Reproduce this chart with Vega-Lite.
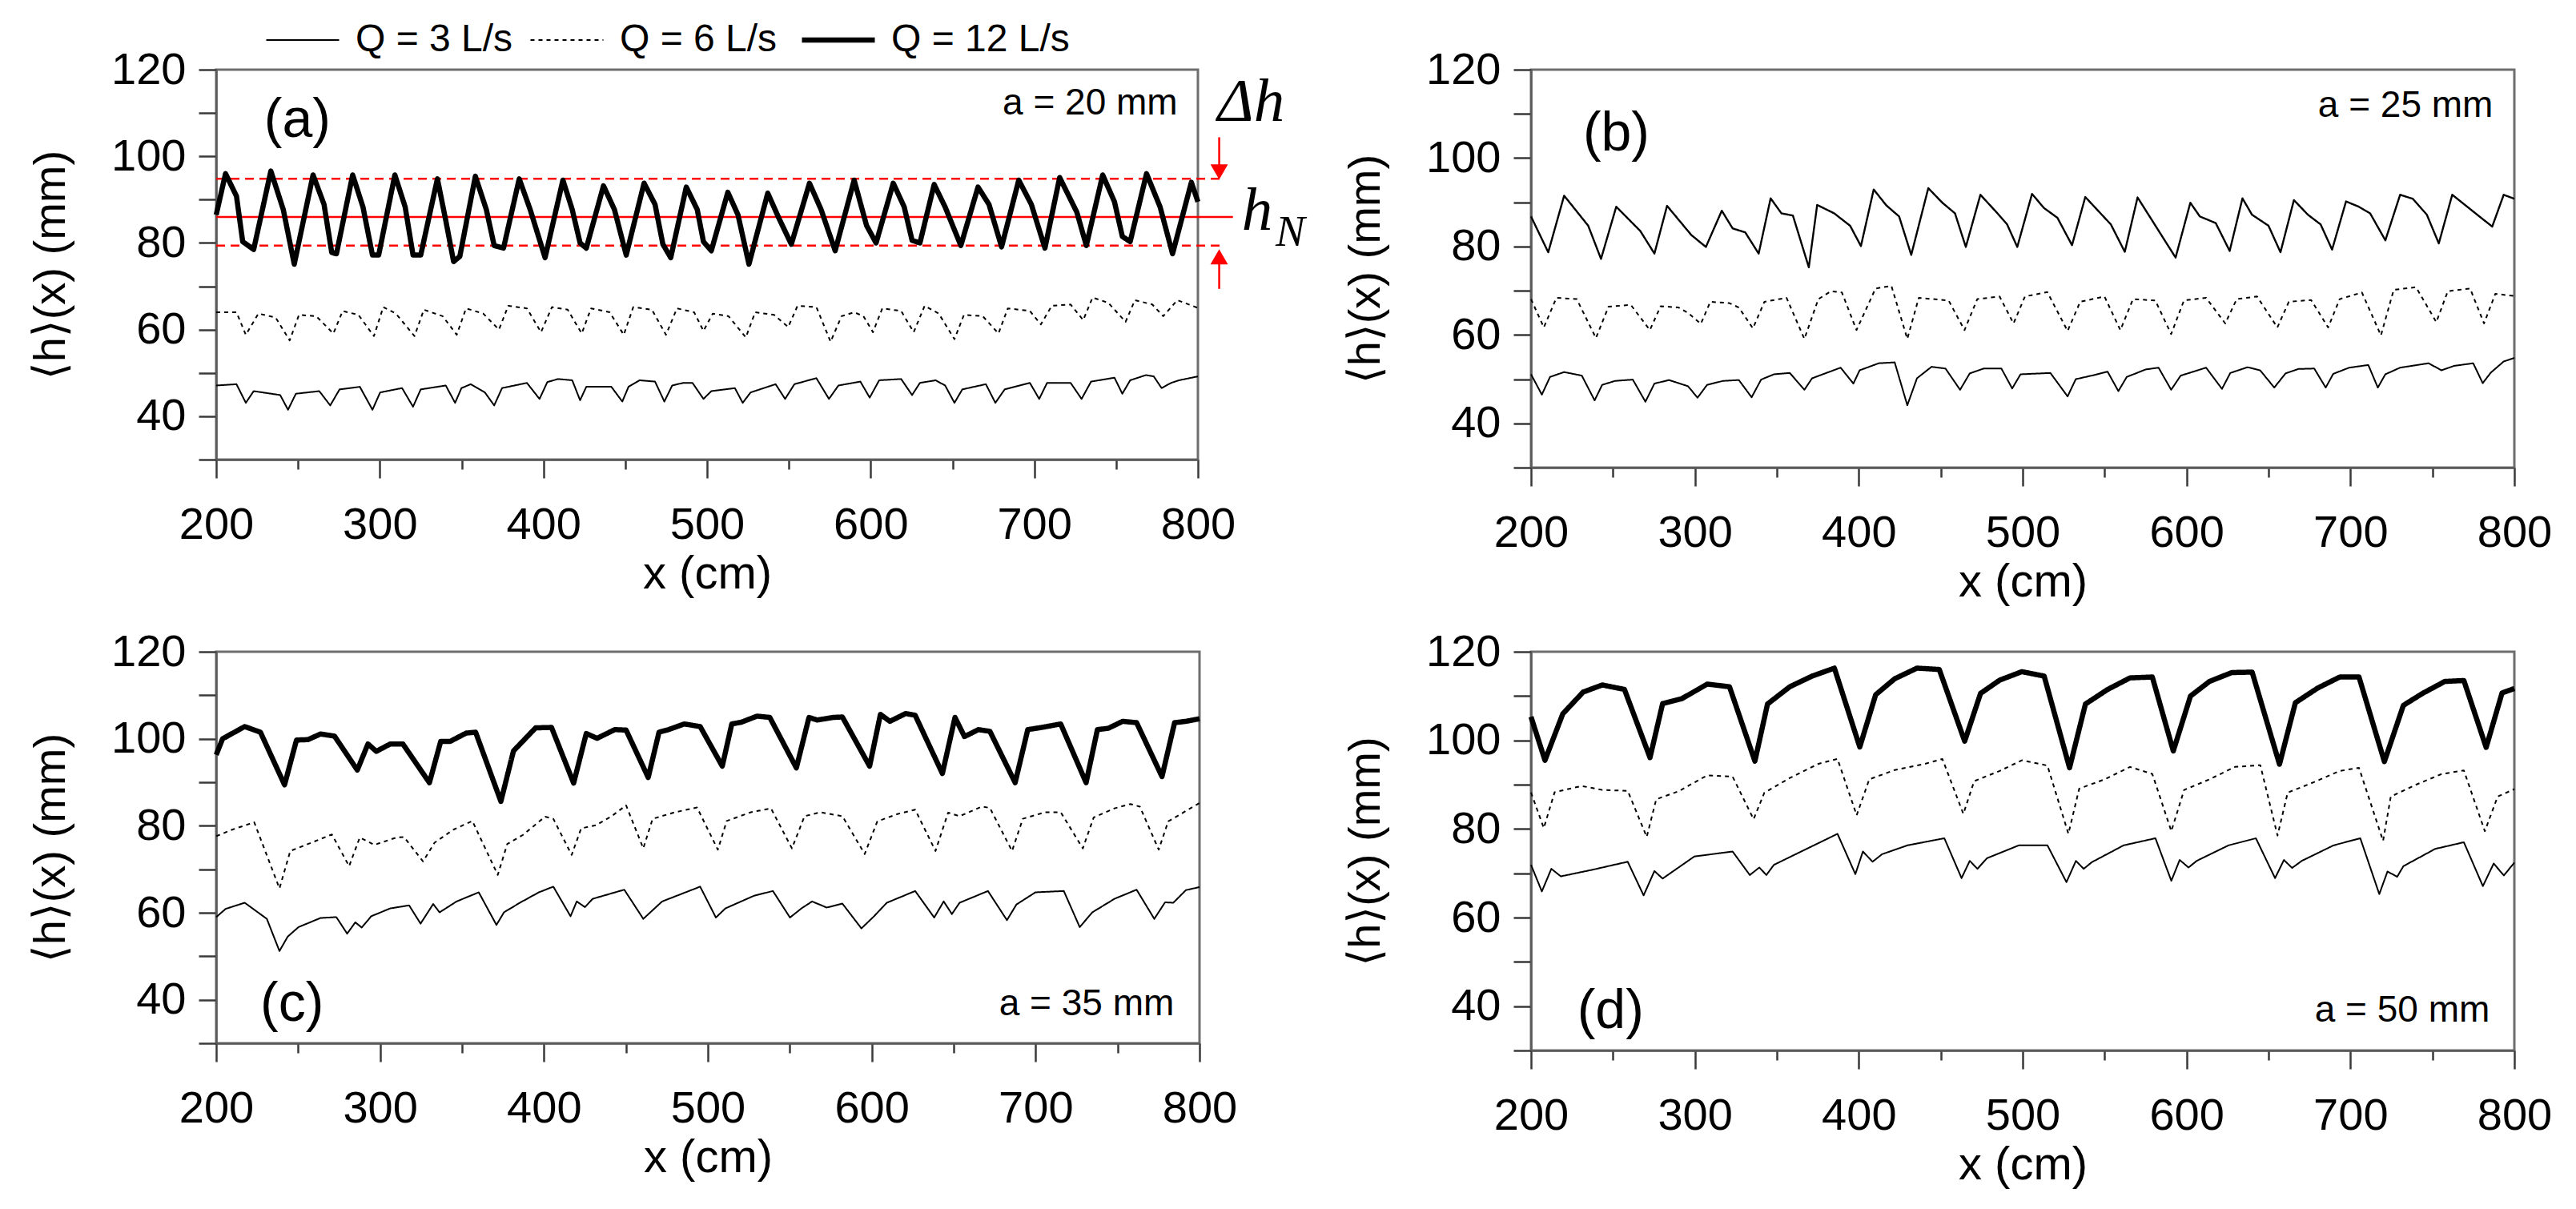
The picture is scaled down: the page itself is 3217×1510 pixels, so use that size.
{
  "$schema": "https://vega.github.io/schema/vega-lite/v6.json",
  "background": "white",
  "padding": {"left": 34, "top": 24, "right": 10, "bottom": 10},
  "columns": 2,
  "bounds": "flush",
  "spacing": {"row": 230, "column": 414},
  "resolve": {
    "scale": {"strokeDash": "independent", "strokeWidth": "independent"},
    "legend": {"strokeDash": "independent", "strokeWidth": "independent"}
  },
  "config": {
    "font": "Liberation Sans",
    "view": {"stroke": "#6e6e6e", "strokeWidth": 3},
    "axis": {
      "grid": false,
      "domainColor": "#5a5a5a",
      "domainWidth": 2.5,
      "tickColor": "#3a3a3a",
      "tickWidth": 2.5,
      "labelColor": "black",
      "titleColor": "black",
      "labelFont": "Liberation Sans",
      "titleFont": "Liberation Sans, DejaVu Sans",
      "titleFontWeight": "normal",
      "labelFontSize": 56,
      "titleFontSize": 56,
      "labelFlush": false,
      "labelOverlap": false,
      "labelBound": false
    },
    "text": {"font": "Liberation Sans", "color": "black"}
  },
  "datasets": {
    "ref": [
      {"kind": "solid", "x": 200, "x2": 821.4, "h": 86.0},
      {"kind": "dash", "x": 200, "x2": 814.9, "h": 94.8},
      {"kind": "dash", "x": 200, "x2": 814.9, "h": 79.4},
      {"kind": "shaft", "x": 813, "h": 104.4, "h2": 98.0},
      {"kind": "shaft", "x": 813, "h": 69.4, "h2": 75.5},
      {"kind": "down", "x": 813, "h": 96.4},
      {"kind": "up", "x": 813, "h": 76.8}
    ],
    "notes": [
      {"p": "a", "role": "tag", "text": "(a)", "x": 249.6, "h": 108.2},
      {"p": "b", "role": "tag", "text": "(b)", "x": 252, "h": 105.4},
      {"p": "c", "role": "tag", "text": "(c)", "x": 246.3, "h": 38.8},
      {"p": "d", "role": "tag", "text": "(d)", "x": 248.5, "h": 38.7},
      {"p": "a", "role": "aval", "text": "a = 20 mm", "x": 787.6, "h": 112.3},
      {"p": "b", "role": "aval", "text": "a = 25 mm", "x": 787, "h": 111.8},
      {"p": "c", "role": "aval", "text": "a = 35 mm", "x": 784.5, "h": 39.1},
      {"p": "d", "role": "aval", "text": "a = 50 mm", "x": 785, "h": 39.0},
      {"p": "a", "role": "dh", "text": "Δh", "x": 832.5, "h": 112.4},
      {"p": "a", "role": "hn", "text": "h", "x": 836.2, "h": 87.3},
      {"p": "a", "role": "sub", "text": "N", "x": 856.5, "h": 82.5}
    ],
    "h": [
      {"p":"a","Q":12,"x":200,"h":86.5},{"p":"a","Q":12,"x":205.7,"h":96.0},{"p":"a","Q":12,"x":212.4,"h":90.8},{"p":"a","Q":12,"x":216.2,"h":80.3},{"p":"a","Q":12,"x":222.9,"h":78.5},{"p":"a","Q":12,"x":233.4,"h":96.6},{"p":"a","Q":12,"x":241.0,"h":87.7},{"p":"a","Q":12,"x":247.7,"h":75.1},{"p":"a","Q":12,"x":259.2,"h":95.7},{"p":"a","Q":12,"x":265.9,"h":88.9},{"p":"a","Q":12,"x":270.6,"h":77.8},{"p":"a","Q":12,"x":273.5,"h":77.5},{"p":"a","Q":12,"x":283.4,"h":95.7},{"p":"a","Q":12,"x":289.7,"h":88.3},{"p":"a","Q":12,"x":295.5,"h":77.2},{"p":"a","Q":12,"x":299.3,"h":77.2},{"p":"a","Q":12,"x":309.2,"h":95.7},{"p":"a","Q":12,"x":315.5,"h":88.3},{"p":"a","Q":12,"x":320.3,"h":77.2},{"p":"a","Q":12,"x":325.0,"h":77.2},{"p":"a","Q":12,"x":335.2,"h":94.8},{"p":"a","Q":12,"x":340.3,"h":85.2},{"p":"a","Q":12,"x":345.1,"h":75.7},{"p":"a","Q":12,"x":348.9,"h":76.9},{"p":"a","Q":12,"x":358.4,"h":95.4},{"p":"a","Q":12,"x":365.1,"h":87.7},{"p":"a","Q":12,"x":369.9,"h":79.4},{"p":"a","Q":12,"x":375.6,"h":78.8},{"p":"a","Q":12,"x":385.2,"h":94.8},{"p":"a","Q":12,"x":391.9,"h":87.7},{"p":"a","Q":12,"x":401.0,"h":76.6},{"p":"a","Q":12,"x":411.9,"h":94.5},{"p":"a","Q":12,"x":417.6,"h":87.7},{"p":"a","Q":12,"x":422.4,"h":80.0},{"p":"a","Q":12,"x":426.2,"h":78.8},{"p":"a","Q":12,"x":436.7,"h":93.2},{"p":"a","Q":12,"x":443.4,"h":87.7},{"p":"a","Q":12,"x":450.6,"h":77.2},{"p":"a","Q":12,"x":461.5,"h":93.8},{"p":"a","Q":12,"x":468.2,"h":88.9},{"p":"a","Q":12,"x":473.0,"h":79.7},{"p":"a","Q":12,"x":477.8,"h":76.6},{"p":"a","Q":12,"x":487.3,"h":92.9},{"p":"a","Q":12,"x":494.0,"h":87.7},{"p":"a","Q":12,"x":497.8,"h":80.3},{"p":"a","Q":12,"x":502.6,"h":78.2},{"p":"a","Q":12,"x":512.7,"h":91.7},{"p":"a","Q":12,"x":518.9,"h":86.5},{"p":"a","Q":12,"x":525.6,"h":75.1},{"p":"a","Q":12,"x":537.1,"h":91.5},{"p":"a","Q":12,"x":543.8,"h":85.8},{"p":"a","Q":12,"x":551.5,"h":79.7},{"p":"a","Q":12,"x":562.6,"h":93.8},{"p":"a","Q":12,"x":569.7,"h":87.7},{"p":"a","Q":12,"x":578.3,"h":78.2},{"p":"a","Q":12,"x":589.9,"h":94.5},{"p":"a","Q":12,"x":597.5,"h":84.0},{"p":"a","Q":12,"x":603.3,"h":80.0},{"p":"a","Q":12,"x":613.8,"h":93.8},{"p":"a","Q":12,"x":620.5,"h":88.3},{"p":"a","Q":12,"x":625.3,"h":80.6},{"p":"a","Q":12,"x":630.1,"h":80.0},{"p":"a","Q":12,"x":638.8,"h":93.5},{"p":"a","Q":12,"x":645.5,"h":88.3},{"p":"a","Q":12,"x":655.1,"h":79.4},{"p":"a","Q":12,"x":665.6,"h":92.9},{"p":"a","Q":12,"x":672.3,"h":88.9},{"p":"a","Q":12,"x":680.0,"h":79.1},{"p":"a","Q":12,"x":690.5,"h":94.5},{"p":"a","Q":12,"x":698.2,"h":88.9},{"p":"a","Q":12,"x":706.5,"h":78.8},{"p":"a","Q":12,"x":715.5,"h":95.1},{"p":"a","Q":12,"x":726.0,"h":87.1},{"p":"a","Q":12,"x":731.8,"h":79.4},{"p":"a","Q":12,"x":741.8,"h":95.7},{"p":"a","Q":12,"x":749.0,"h":89.5},{"p":"a","Q":12,"x":753.8,"h":81.5},{"p":"a","Q":12,"x":758.6,"h":80.3},{"p":"a","Q":12,"x":768.6,"h":96.0},{"p":"a","Q":12,"x":776.9,"h":88.3},{"p":"a","Q":12,"x":784.5,"h":77.5},{"p":"a","Q":12,"x":796,"h":94.0},{"p":"a","Q":12,"x":800,"h":89.5},
      {"p":"a","Q":6,"x":200,"h":64.0},{"p":"a","Q":6,"x":212.4,"h":64.0},{"p":"a","Q":6,"x":218.1,"h":58.8},{"p":"a","Q":6,"x":225.8,"h":63.7},{"p":"a","Q":6,"x":236.3,"h":62.8},{"p":"a","Q":6,"x":244.9,"h":57.5},{"p":"a","Q":6,"x":250.6,"h":63.4},{"p":"a","Q":6,"x":261.1,"h":63.1},{"p":"a","Q":6,"x":271.6,"h":59.1},{"p":"a","Q":6,"x":277.3,"h":64.3},{"p":"a","Q":6,"x":286.9,"h":63.4},{"p":"a","Q":6,"x":296.4,"h":58.5},{"p":"a","Q":6,"x":302.1,"h":65.2},{"p":"a","Q":6,"x":309.8,"h":63.7},{"p":"a","Q":6,"x":321.2,"h":58.5},{"p":"a","Q":6,"x":326.9,"h":64.6},{"p":"a","Q":6,"x":338.4,"h":63.1},{"p":"a","Q":6,"x":347.0,"h":58.8},{"p":"a","Q":6,"x":352.7,"h":64.9},{"p":"a","Q":6,"x":363.2,"h":63.7},{"p":"a","Q":6,"x":372.8,"h":60.0},{"p":"a","Q":6,"x":378.5,"h":65.5},{"p":"a","Q":6,"x":389.9,"h":64.9},{"p":"a","Q":6,"x":398.5,"h":59.4},{"p":"a","Q":6,"x":405.2,"h":65.2},{"p":"a","Q":6,"x":414.8,"h":64.6},{"p":"a","Q":6,"x":423.4,"h":59.1},{"p":"a","Q":6,"x":429.1,"h":64.9},{"p":"a","Q":6,"x":440.5,"h":64.0},{"p":"a","Q":6,"x":449.1,"h":58.8},{"p":"a","Q":6,"x":454.9,"h":65.2},{"p":"a","Q":6,"x":466.3,"h":64.6},{"p":"a","Q":6,"x":474.9,"h":58.8},{"p":"a","Q":6,"x":481.6,"h":64.9},{"p":"a","Q":6,"x":492.1,"h":64.0},{"p":"a","Q":6,"x":497.8,"h":59.7},{"p":"a","Q":6,"x":503.5,"h":63.7},{"p":"a","Q":6,"x":513.1,"h":63.1},{"p":"a","Q":6,"x":523.7,"h":58.2},{"p":"a","Q":6,"x":529.4,"h":64.0},{"p":"a","Q":6,"x":541.0,"h":63.4},{"p":"a","Q":6,"x":549.6,"h":60.6},{"p":"a","Q":6,"x":555.3,"h":65.5},{"p":"a","Q":6,"x":566.8,"h":65.2},{"p":"a","Q":6,"x":575.5,"h":57.2},{"p":"a","Q":6,"x":582.2,"h":63.1},{"p":"a","Q":6,"x":589.9,"h":64.0},{"p":"a","Q":6,"x":595.6,"h":63.1},{"p":"a","Q":6,"x":601.4,"h":59.4},{"p":"a","Q":6,"x":607.1,"h":64.9},{"p":"a","Q":6,"x":618.6,"h":64.3},{"p":"a","Q":6,"x":626.3,"h":59.4},{"p":"a","Q":6,"x":633.0,"h":65.5},{"p":"a","Q":6,"x":641.6,"h":63.7},{"p":"a","Q":6,"x":651.2,"h":57.8},{"p":"a","Q":6,"x":657.0,"h":63.4},{"p":"a","Q":6,"x":668.5,"h":63.1},{"p":"a","Q":6,"x":678.1,"h":59.1},{"p":"a","Q":6,"x":683.8,"h":64.9},{"p":"a","Q":6,"x":697.3,"h":64.3},{"p":"a","Q":6,"x":704.0,"h":61.2},{"p":"a","Q":6,"x":710.7,"h":65.5},{"p":"a","Q":6,"x":722.2,"h":65.8},{"p":"a","Q":6,"x":729.9,"h":62.2},{"p":"a","Q":6,"x":735.6,"h":67.4},{"p":"a","Q":6,"x":745.2,"h":66.2},{"p":"a","Q":6,"x":755.8,"h":61.8},{"p":"a","Q":6,"x":761.5,"h":66.8},{"p":"a","Q":6,"x":772.1,"h":65.8},{"p":"a","Q":6,"x":778.8,"h":63.1},{"p":"a","Q":6,"x":787.4,"h":66.8},{"p":"a","Q":6,"x":800,"h":65.0},
      {"p":"a","Q":3,"x":200,"h":47.1},{"p":"a","Q":3,"x":212.4,"h":47.4},{"p":"a","Q":3,"x":218.1,"h":43.1},{"p":"a","Q":3,"x":222.9,"h":45.8},{"p":"a","Q":3,"x":239.1,"h":44.9},{"p":"a","Q":3,"x":243.9,"h":41.5},{"p":"a","Q":3,"x":248.7,"h":45.2},{"p":"a","Q":3,"x":263.0,"h":45.8},{"p":"a","Q":3,"x":269.7,"h":42.5},{"p":"a","Q":3,"x":275.4,"h":46.2},{"p":"a","Q":3,"x":287.8,"h":46.8},{"p":"a","Q":3,"x":295.5,"h":41.5},{"p":"a","Q":3,"x":300.2,"h":45.5},{"p":"a","Q":3,"x":313.6,"h":46.5},{"p":"a","Q":3,"x":320.3,"h":42.2},{"p":"a","Q":3,"x":325.0,"h":46.2},{"p":"a","Q":3,"x":340.3,"h":47.1},{"p":"a","Q":3,"x":346.0,"h":43.1},{"p":"a","Q":3,"x":349.9,"h":46.5},{"p":"a","Q":3,"x":355.6,"h":47.4},{"p":"a","Q":3,"x":364.2,"h":45.5},{"p":"a","Q":3,"x":369.9,"h":42.5},{"p":"a","Q":3,"x":374.7,"h":46.5},{"p":"a","Q":3,"x":389.9,"h":47.7},{"p":"a","Q":3,"x":397.6,"h":44.0},{"p":"a","Q":3,"x":402.4,"h":47.9},{"p":"a","Q":3,"x":409.0,"h":48.6},{"p":"a","Q":3,"x":417.6,"h":48.3},{"p":"a","Q":3,"x":422.4,"h":43.7},{"p":"a","Q":3,"x":426.2,"h":46.8},{"p":"a","Q":3,"x":441.5,"h":46.8},{"p":"a","Q":3,"x":448.2,"h":43.4},{"p":"a","Q":3,"x":452.0,"h":46.8},{"p":"a","Q":3,"x":458.7,"h":48.3},{"p":"a","Q":3,"x":468.2,"h":48.0},{"p":"a","Q":3,"x":473.9,"h":43.4},{"p":"a","Q":3,"x":478.7,"h":47.1},{"p":"a","Q":3,"x":485.4,"h":47.7},{"p":"a","Q":3,"x":491.1,"h":47.7},{"p":"a","Q":3,"x":497.8,"h":44.0},{"p":"a","Q":3,"x":502.6,"h":45.8},{"p":"a","Q":3,"x":517.0,"h":46.5},{"p":"a","Q":3,"x":521.8,"h":43.1},{"p":"a","Q":3,"x":526.6,"h":45.5},{"p":"a","Q":3,"x":541.9,"h":47.4},{"p":"a","Q":3,"x":547.7,"h":44.0},{"p":"a","Q":3,"x":553.4,"h":47.4},{"p":"a","Q":3,"x":566.8,"h":48.8},{"p":"a","Q":3,"x":574.5,"h":44.0},{"p":"a","Q":3,"x":580.3,"h":47.1},{"p":"a","Q":3,"x":593.7,"h":48.0},{"p":"a","Q":3,"x":599.4,"h":44.3},{"p":"a","Q":3,"x":605.2,"h":48.3},{"p":"a","Q":3,"x":618.6,"h":48.6},{"p":"a","Q":3,"x":625.3,"h":44.9},{"p":"a","Q":3,"x":630.1,"h":47.7},{"p":"a","Q":3,"x":639.7,"h":48.3},{"p":"a","Q":3,"x":645.5,"h":47.1},{"p":"a","Q":3,"x":651.2,"h":43.1},{"p":"a","Q":3,"x":656.0,"h":46.2},{"p":"a","Q":3,"x":670.4,"h":47.4},{"p":"a","Q":3,"x":676.2,"h":43.1},{"p":"a","Q":3,"x":681.9,"h":46.2},{"p":"a","Q":3,"x":697.3,"h":47.7},{"p":"a","Q":3,"x":703.0,"h":44.0},{"p":"a","Q":3,"x":707.8,"h":47.7},{"p":"a","Q":3,"x":722.2,"h":47.7},{"p":"a","Q":3,"x":728.9,"h":44.0},{"p":"a","Q":3,"x":734.7,"h":48.0},{"p":"a","Q":3,"x":749.0,"h":48.9},{"p":"a","Q":3,"x":753.8,"h":45.2},{"p":"a","Q":3,"x":758.6,"h":48.3},{"p":"a","Q":3,"x":768.2,"h":49.5},{"p":"a","Q":3,"x":773.0,"h":49.2},{"p":"a","Q":3,"x":777.8,"h":46.5},{"p":"a","Q":3,"x":783.6,"h":47.7},{"p":"a","Q":3,"x":788.4,"h":48.3},{"p":"a","Q":3,"x":800,"h":49.2},
      {"p":"b","Q":12,"x":200,"h":86.8},{"p":"b","Q":12,"x":210.5,"h":78.7},{"p":"b","Q":12,"x":220.2,"h":91.5},{"p":"b","Q":12,"x":234.9,"h":84.7},{"p":"b","Q":12,"x":242.7,"h":77.2},{"p":"b","Q":12,"x":252.0,"h":89.0},{"p":"b","Q":12,"x":266.7,"h":83.5},{"p":"b","Q":12,"x":275.3,"h":78.4},{"p":"b","Q":12,"x":283.0,"h":89.2},{"p":"b","Q":12,"x":297.8,"h":82.6},{"p":"b","Q":12,"x":306.7,"h":79.9},{"p":"b","Q":12,"x":316.4,"h":88.1},{"p":"b","Q":12,"x":323.0,"h":84.1},{"p":"b","Q":12,"x":330.7,"h":83.2},{"p":"b","Q":12,"x":338.9,"h":78.4},{"p":"b","Q":12,"x":346.2,"h":90.9},{"p":"b","Q":12,"x":352.8,"h":87.5},{"p":"b","Q":12,"x":359.8,"h":87.0},{"p":"b","Q":12,"x":369.5,"h":75.3},{"p":"b","Q":12,"x":374.6,"h":89.4},{"p":"b","Q":12,"x":385.0,"h":87.5},{"p":"b","Q":12,"x":394.7,"h":84.7},{"p":"b","Q":12,"x":401.3,"h":80.1},{"p":"b","Q":12,"x":409.1,"h":92.9},{"p":"b","Q":12,"x":416.8,"h":89.3},{"p":"b","Q":12,"x":424.6,"h":86.8},{"p":"b","Q":12,"x":432.0,"h":78.1},{"p":"b","Q":12,"x":442.4,"h":93.2},{"p":"b","Q":12,"x":451.0,"h":89.9},{"p":"b","Q":12,"x":458.7,"h":87.5},{"p":"b","Q":12,"x":465.3,"h":79.9},{"p":"b","Q":12,"x":474.2,"h":91.7},{"p":"b","Q":12,"x":483.9,"h":87.8},{"p":"b","Q":12,"x":490.5,"h":85.0},{"p":"b","Q":12,"x":496.7,"h":79.9},{"p":"b","Q":12,"x":505.7,"h":91.9},{"p":"b","Q":12,"x":513.0,"h":88.7},{"p":"b","Q":12,"x":521.2,"h":86.5},{"p":"b","Q":12,"x":530.1,"h":80.3},{"p":"b","Q":12,"x":538.2,"h":91.2},{"p":"b","Q":12,"x":553.8,"h":85.0},{"p":"b","Q":12,"x":562.3,"h":78.8},{"p":"b","Q":12,"x":570.1,"h":91.1},{"p":"b","Q":12,"x":593.3,"h":77.5},{"p":"b","Q":12,"x":602.3,"h":89.9},{"p":"b","Q":12,"x":608.1,"h":86.8},{"p":"b","Q":12,"x":617.8,"h":85.3},{"p":"b","Q":12,"x":626.3,"h":79.0},{"p":"b","Q":12,"x":634.1,"h":90.9},{"p":"b","Q":12,"x":639.9,"h":87.2},{"p":"b","Q":12,"x":650.0,"h":84.7},{"p":"b","Q":12,"x":657.3,"h":78.7},{"p":"b","Q":12,"x":665.5,"h":90.5},{"p":"b","Q":12,"x":674.0,"h":87.2},{"p":"b","Q":12,"x":681.8,"h":85.0},{"p":"b","Q":12,"x":688.8,"h":79.3},{"p":"b","Q":12,"x":697.3,"h":90.2},{"p":"b","Q":12,"x":705.1,"h":89.0},{"p":"b","Q":12,"x":712.0,"h":87.5},{"p":"b","Q":12,"x":721.3,"h":81.4},{"p":"b","Q":12,"x":730.3,"h":91.7},{"p":"b","Q":12,"x":738.0,"h":90.8},{"p":"b","Q":12,"x":746.6,"h":87.2},{"p":"b","Q":12,"x":753.9,"h":80.7},{"p":"b","Q":12,"x":762.1,"h":91.7},{"p":"b","Q":12,"x":786.5,"h":84.5},{"p":"b","Q":12,"x":793.5,"h":91.7},{"p":"b","Q":12,"x":800,"h":90.8},
      {"p":"b","Q":6,"x":200,"h":68.1},{"p":"b","Q":6,"x":207.8,"h":61.7},{"p":"b","Q":6,"x":215.5,"h":68.4},{"p":"b","Q":6,"x":227.9,"h":68.1},{"p":"b","Q":6,"x":239.6,"h":59.3},{"p":"b","Q":6,"x":247.3,"h":66.4},{"p":"b","Q":6,"x":260.9,"h":66.8},{"p":"b","Q":6,"x":272.5,"h":61.1},{"p":"b","Q":6,"x":279.1,"h":66.5},{"p":"b","Q":6,"x":290.0,"h":66.2},{"p":"b","Q":6,"x":295.8,"h":65.0},{"p":"b","Q":6,"x":303.6,"h":62.5},{"p":"b","Q":6,"x":309.4,"h":67.5},{"p":"b","Q":6,"x":321.0,"h":67.2},{"p":"b","Q":6,"x":326.8,"h":66.2},{"p":"b","Q":6,"x":335.4,"h":61.5},{"p":"b","Q":6,"x":342.4,"h":67.5},{"p":"b","Q":6,"x":355.9,"h":68.4},{"p":"b","Q":6,"x":366.8,"h":59.1},{"p":"b","Q":6,"x":375.3,"h":68.1},{"p":"b","Q":6,"x":383.1,"h":69.9},{"p":"b","Q":6,"x":389.7,"h":69.6},{"p":"b","Q":6,"x":398.6,"h":61.1},{"p":"b","Q":6,"x":410.2,"h":70.5},{"p":"b","Q":6,"x":419.9,"h":71.1},{"p":"b","Q":6,"x":429.6,"h":59.1},{"p":"b","Q":6,"x":436.6,"h":68.4},{"p":"b","Q":6,"x":454.8,"h":67.8},{"p":"b","Q":6,"x":464.5,"h":61.1},{"p":"b","Q":6,"x":472.3,"h":68.1},{"p":"b","Q":6,"x":485.9,"h":68.7},{"p":"b","Q":6,"x":494.4,"h":62.6},{"p":"b","Q":6,"x":501.4,"h":68.7},{"p":"b","Q":6,"x":515.0,"h":69.7},{"p":"b","Q":6,"x":527.4,"h":60.9},{"p":"b","Q":6,"x":535.1,"h":67.5},{"p":"b","Q":6,"x":549.9,"h":68.7},{"p":"b","Q":6,"x":559.6,"h":61.1},{"p":"b","Q":6,"x":567.3,"h":68.1},{"p":"b","Q":6,"x":580.9,"h":67.8},{"p":"b","Q":6,"x":590.6,"h":60.2},{"p":"b","Q":6,"x":598.4,"h":67.8},{"p":"b","Q":6,"x":611.9,"h":68.4},{"p":"b","Q":6,"x":623.6,"h":62.6},{"p":"b","Q":6,"x":630.6,"h":68.1},{"p":"b","Q":6,"x":643.0,"h":68.7},{"p":"b","Q":6,"x":655.4,"h":61.7},{"p":"b","Q":6,"x":662.4,"h":67.5},{"p":"b","Q":6,"x":676.0,"h":67.9},{"p":"b","Q":6,"x":686.4,"h":61.7},{"p":"b","Q":6,"x":693.4,"h":68.1},{"p":"b","Q":6,"x":707.0,"h":69.6},{"p":"b","Q":6,"x":718.6,"h":59.9},{"p":"b","Q":6,"x":726.4,"h":70.2},{"p":"b","Q":6,"x":740.0,"h":70.8},{"p":"b","Q":6,"x":752.4,"h":62.9},{"p":"b","Q":6,"x":759.4,"h":69.9},{"p":"b","Q":6,"x":773.0,"h":70.5},{"p":"b","Q":6,"x":781.5,"h":62.6},{"p":"b","Q":6,"x":788.4,"h":69.3},{"p":"b","Q":6,"x":800,"h":68.8},
      {"p":"b","Q":3,"x":200,"h":51.1},{"p":"b","Q":3,"x":206.6,"h":46.5},{"p":"b","Q":3,"x":211.6,"h":50.5},{"p":"b","Q":3,"x":220.2,"h":51.6},{"p":"b","Q":3,"x":231.0,"h":50.8},{"p":"b","Q":3,"x":238.8,"h":45.2},{"p":"b","Q":3,"x":243.4,"h":48.7},{"p":"b","Q":3,"x":251.2,"h":49.6},{"p":"b","Q":3,"x":262.1,"h":49.9},{"p":"b","Q":3,"x":269.8,"h":44.9},{"p":"b","Q":3,"x":275.3,"h":49.0},{"p":"b","Q":3,"x":284.2,"h":49.8},{"p":"b","Q":3,"x":295.8,"h":48.4},{"p":"b","Q":3,"x":301.6,"h":45.8},{"p":"b","Q":3,"x":307.4,"h":48.7},{"p":"b","Q":3,"x":317.1,"h":49.6},{"p":"b","Q":3,"x":326.8,"h":49.8},{"p":"b","Q":3,"x":334.6,"h":45.9},{"p":"b","Q":3,"x":340.4,"h":49.9},{"p":"b","Q":3,"x":348.2,"h":51.1},{"p":"b","Q":3,"x":357.9,"h":51.4},{"p":"b","Q":3,"x":366.8,"h":47.6},{"p":"b","Q":3,"x":371.5,"h":50.2},{"p":"b","Q":3,"x":388.9,"h":52.6},{"p":"b","Q":3,"x":396.7,"h":49.0},{"p":"b","Q":3,"x":400.5,"h":52.0},{"p":"b","Q":3,"x":412.2,"h":53.6},{"p":"b","Q":3,"x":421.9,"h":53.8},{"p":"b","Q":3,"x":429.6,"h":44.1},{"p":"b","Q":3,"x":435.5,"h":50.2},{"p":"b","Q":3,"x":444.4,"h":52.8},{"p":"b","Q":3,"x":452.9,"h":52.4},{"p":"b","Q":3,"x":461.8,"h":47.6},{"p":"b","Q":3,"x":467.7,"h":51.3},{"p":"b","Q":3,"x":476.2,"h":52.4},{"p":"b","Q":3,"x":487.0,"h":52.4},{"p":"b","Q":3,"x":493.6,"h":47.9},{"p":"b","Q":3,"x":498.7,"h":51.1},{"p":"b","Q":3,"x":516.9,"h":51.4},{"p":"b","Q":3,"x":527.4,"h":46.1},{"p":"b","Q":3,"x":532.4,"h":50.0},{"p":"b","Q":3,"x":542.1,"h":50.8},{"p":"b","Q":3,"x":551.8,"h":51.7},{"p":"b","Q":3,"x":558.4,"h":47.3},{"p":"b","Q":3,"x":563.5,"h":50.5},{"p":"b","Q":3,"x":575.1,"h":52.2},{"p":"b","Q":3,"x":582.9,"h":52.6},{"p":"b","Q":3,"x":590.6,"h":47.6},{"p":"b","Q":3,"x":596.4,"h":50.8},{"p":"b","Q":3,"x":611.9,"h":52.6},{"p":"b","Q":3,"x":621.6,"h":47.8},{"p":"b","Q":3,"x":626.7,"h":51.4},{"p":"b","Q":3,"x":637.2,"h":52.7},{"p":"b","Q":3,"x":644.9,"h":52.0},{"p":"b","Q":3,"x":653.5,"h":48.1},{"p":"b","Q":3,"x":660.4,"h":51.3},{"p":"b","Q":3,"x":668.2,"h":52.3},{"p":"b","Q":3,"x":677.9,"h":52.4},{"p":"b","Q":3,"x":684.9,"h":48.1},{"p":"b","Q":3,"x":689.5,"h":51.2},{"p":"b","Q":3,"x":699.2,"h":52.6},{"p":"b","Q":3,"x":710.9,"h":53.2},{"p":"b","Q":3,"x":716.7,"h":48.1},{"p":"b","Q":3,"x":721.3,"h":51.1},{"p":"b","Q":3,"x":730.3,"h":52.6},{"p":"b","Q":3,"x":747.7,"h":53.6},{"p":"b","Q":3,"x":755.5,"h":52.0},{"p":"b","Q":3,"x":763.2,"h":53.0},{"p":"b","Q":3,"x":774.9,"h":53.6},{"p":"b","Q":3,"x":780.7,"h":49.1},{"p":"b","Q":3,"x":785.7,"h":51.5},{"p":"b","Q":3,"x":793.5,"h":54.0},{"p":"b","Q":3,"x":800,"h":54.8},
      {"p":"c","Q":12,"x":200,"h":96.3},{"p":"c","Q":12,"x":203.9,"h":100.0},{"p":"c","Q":12,"x":217.4,"h":102.8},{"p":"c","Q":12,"x":227.0,"h":101.5},{"p":"c","Q":12,"x":241.7,"h":89.4},{"p":"c","Q":12,"x":249.0,"h":99.7},{"p":"c","Q":12,"x":256.0,"h":99.8},{"p":"c","Q":12,"x":263.7,"h":101.1},{"p":"c","Q":12,"x":272.2,"h":100.6},{"p":"c","Q":12,"x":286.1,"h":92.8},{"p":"c","Q":12,"x":292.6,"h":98.8},{"p":"c","Q":12,"x":297.7,"h":97.1},{"p":"c","Q":12,"x":306.2,"h":98.8},{"p":"c","Q":12,"x":313.9,"h":98.8},{"p":"c","Q":12,"x":330.1,"h":89.9},{"p":"c","Q":12,"x":337.0,"h":99.4},{"p":"c","Q":12,"x":342.8,"h":99.4},{"p":"c","Q":12,"x":352.5,"h":101.3},{"p":"c","Q":12,"x":358.3,"h":101.5},{"p":"c","Q":12,"x":373.7,"h":85.6},{"p":"c","Q":12,"x":381.4,"h":97.2},{"p":"c","Q":12,"x":394.9,"h":102.5},{"p":"c","Q":12,"x":404.6,"h":102.6},{"p":"c","Q":12,"x":418.1,"h":89.8},{"p":"c","Q":12,"x":425.8,"h":101.2},{"p":"c","Q":12,"x":432.4,"h":100.1},{"p":"c","Q":12,"x":443.2,"h":102.1},{"p":"c","Q":12,"x":450.1,"h":102.0},{"p":"c","Q":12,"x":463.6,"h":91.1},{"p":"c","Q":12,"x":470.2,"h":101.5},{"p":"c","Q":12,"x":476.0,"h":102.1},{"p":"c","Q":12,"x":485.6,"h":103.4},{"p":"c","Q":12,"x":495.3,"h":102.8},{"p":"c","Q":12,"x":508.8,"h":93.7},{"p":"c","Q":12,"x":514.6,"h":103.4},{"p":"c","Q":12,"x":520.4,"h":103.8},{"p":"c","Q":12,"x":530.0,"h":105.2},{"p":"c","Q":12,"x":537.8,"h":104.9},{"p":"c","Q":12,"x":554.0,"h":93.3},{"p":"c","Q":12,"x":561.7,"h":104.9},{"p":"c","Q":12,"x":566.7,"h":104.3},{"p":"c","Q":12,"x":576.4,"h":104.9},{"p":"c","Q":12,"x":582.1,"h":105.0},{"p":"c","Q":12,"x":598.7,"h":93.7},{"p":"c","Q":12,"x":605.3,"h":105.6},{"p":"c","Q":12,"x":611.1,"h":104.0},{"p":"c","Q":12,"x":620.7,"h":105.8},{"p":"c","Q":12,"x":626.5,"h":105.4},{"p":"c","Q":12,"x":643.1,"h":92.0},{"p":"c","Q":12,"x":650.8,"h":104.9},{"p":"c","Q":12,"x":656.6,"h":100.5},{"p":"c","Q":12,"x":665.1,"h":102.1},{"p":"c","Q":12,"x":672.1,"h":101.7},{"p":"c","Q":12,"x":687.5,"h":89.9},{"p":"c","Q":12,"x":695.2,"h":102.1},{"p":"c","Q":12,"x":703.7,"h":102.6},{"p":"c","Q":12,"x":715.3,"h":103.4},{"p":"c","Q":12,"x":730.8,"h":89.9},{"p":"c","Q":12,"x":737.7,"h":102.1},{"p":"c","Q":12,"x":744.3,"h":102.4},{"p":"c","Q":12,"x":753.1,"h":104.0},{"p":"c","Q":12,"x":761.6,"h":103.7},{"p":"c","Q":12,"x":777.1,"h":91.3},{"p":"c","Q":12,"x":784.8,"h":103.7},{"p":"c","Q":12,"x":791.7,"h":104.0},{"p":"c","Q":12,"x":800,"h":104.6},
      {"p":"c","Q":6,"x":200,"h":77.6},{"p":"c","Q":6,"x":209.7,"h":79.1},{"p":"c","Q":6,"x":223.2,"h":80.8},{"p":"c","Q":6,"x":238.6,"h":65.6},{"p":"c","Q":6,"x":245.2,"h":74.2},{"p":"c","Q":6,"x":254.0,"h":75.5},{"p":"c","Q":6,"x":270.6,"h":78.0},{"p":"c","Q":6,"x":281.1,"h":70.7},{"p":"c","Q":6,"x":287.6,"h":77.3},{"p":"c","Q":6,"x":296.5,"h":75.6},{"p":"c","Q":6,"x":310.0,"h":77.3},{"p":"c","Q":6,"x":314.6,"h":77.4},{"p":"c","Q":6,"x":326.2,"h":71.8},{"p":"c","Q":6,"x":333.2,"h":76.1},{"p":"c","Q":6,"x":344.7,"h":79.1},{"p":"c","Q":6,"x":356.3,"h":81.1},{"p":"c","Q":6,"x":371.8,"h":68.7},{"p":"c","Q":6,"x":377.6,"h":75.8},{"p":"c","Q":6,"x":387.2,"h":77.9},{"p":"c","Q":6,"x":400.7,"h":82.1},{"p":"c","Q":6,"x":405.7,"h":81.6},{"p":"c","Q":6,"x":416.9,"h":73.3},{"p":"c","Q":6,"x":422.7,"h":79.4},{"p":"c","Q":6,"x":431.6,"h":80.1},{"p":"c","Q":6,"x":441.3,"h":82.2},{"p":"c","Q":6,"x":450.1,"h":84.7},{"p":"c","Q":6,"x":460.6,"h":74.8},{"p":"c","Q":6,"x":466.3,"h":81.6},{"p":"c","Q":6,"x":479.9,"h":83.1},{"p":"c","Q":6,"x":493.4,"h":84.2},{"p":"c","Q":6,"x":506.1,"h":74.5},{"p":"c","Q":6,"x":511.5,"h":81.1},{"p":"c","Q":6,"x":526.2,"h":83.1},{"p":"c","Q":6,"x":538.5,"h":84.0},{"p":"c","Q":6,"x":551.3,"h":74.8},{"p":"c","Q":6,"x":559.0,"h":82.2},{"p":"c","Q":6,"x":568.6,"h":83.1},{"p":"c","Q":6,"x":582.1,"h":82.2},{"p":"c","Q":6,"x":595.7,"h":73.5},{"p":"c","Q":6,"x":603.4,"h":81.0},{"p":"c","Q":6,"x":615.7,"h":82.7},{"p":"c","Q":6,"x":626.5,"h":83.7},{"p":"c","Q":6,"x":638.9,"h":74.2},{"p":"c","Q":6,"x":646.6,"h":83.0},{"p":"c","Q":6,"x":653.6,"h":82.2},{"p":"c","Q":6,"x":667.1,"h":84.4},{"p":"c","Q":6,"x":672.1,"h":84.1},{"p":"c","Q":6,"x":685.6,"h":74.2},{"p":"c","Q":6,"x":692.2,"h":81.6},{"p":"c","Q":6,"x":705.7,"h":83.1},{"p":"c","Q":6,"x":715.3,"h":83.1},{"p":"c","Q":6,"x":728.8,"h":74.8},{"p":"c","Q":6,"x":735.4,"h":81.9},{"p":"c","Q":6,"x":748.1,"h":84.0},{"p":"c","Q":6,"x":757.8,"h":85.0},{"p":"c","Q":6,"x":763.6,"h":84.4},{"p":"c","Q":6,"x":775.1,"h":74.5},{"p":"c","Q":6,"x":780.9,"h":81.0},{"p":"c","Q":6,"x":791.7,"h":83.4},{"p":"c","Q":6,"x":800,"h":85.2},
      {"p":"c","Q":3,"x":200,"h":59.0},{"p":"c","Q":3,"x":205.8,"h":60.9},{"p":"c","Q":3,"x":217.4,"h":62.3},{"p":"c","Q":3,"x":230.9,"h":58.6},{"p":"c","Q":3,"x":238.6,"h":51.2},{"p":"c","Q":3,"x":243.6,"h":54.5},{"p":"c","Q":3,"x":250.2,"h":56.7},{"p":"c","Q":3,"x":263.7,"h":58.8},{"p":"c","Q":3,"x":273.3,"h":59.0},{"p":"c","Q":3,"x":279.9,"h":55.2},{"p":"c","Q":3,"x":284.9,"h":57.8},{"p":"c","Q":3,"x":288.8,"h":56.6},{"p":"c","Q":3,"x":294.6,"h":59.2},{"p":"c","Q":3,"x":306.2,"h":61.0},{"p":"c","Q":3,"x":317.7,"h":61.7},{"p":"c","Q":3,"x":324.7,"h":57.5},{"p":"c","Q":3,"x":332.4,"h":62.0},{"p":"c","Q":3,"x":336.3,"h":60.1},{"p":"c","Q":3,"x":346.7,"h":62.6},{"p":"c","Q":3,"x":360.2,"h":64.7},{"p":"c","Q":3,"x":371.0,"h":57.2},{"p":"c","Q":3,"x":375.6,"h":60.1},{"p":"c","Q":3,"x":385.3,"h":62.3},{"p":"c","Q":3,"x":396.9,"h":64.7},{"p":"c","Q":3,"x":405.7,"h":66.0},{"p":"c","Q":3,"x":416.2,"h":59.2},{"p":"c","Q":3,"x":420.0,"h":62.6},{"p":"c","Q":3,"x":425.0,"h":61.3},{"p":"c","Q":3,"x":429.7,"h":63.2},{"p":"c","Q":3,"x":449.0,"h":65.3},{"p":"c","Q":3,"x":460.6,"h":58.6},{"p":"c","Q":3,"x":472.1,"h":62.6},{"p":"c","Q":3,"x":495.3,"h":66.0},{"p":"c","Q":3,"x":504.9,"h":58.9},{"p":"c","Q":3,"x":510.7,"h":61.0},{"p":"c","Q":3,"x":528.1,"h":63.9},{"p":"c","Q":3,"x":539.7,"h":65.0},{"p":"c","Q":3,"x":550.1,"h":58.9},{"p":"c","Q":3,"x":557.1,"h":61.0},{"p":"c","Q":3,"x":563.6,"h":62.6},{"p":"c","Q":3,"x":572.5,"h":61.2},{"p":"c","Q":3,"x":582.1,"h":62.1},{"p":"c","Q":3,"x":593.7,"h":56.4},{"p":"c","Q":3,"x":601.4,"h":59.2},{"p":"c","Q":3,"x":609.2,"h":62.3},{"p":"c","Q":3,"x":626.5,"h":65.0},{"p":"c","Q":3,"x":638.1,"h":58.9},{"p":"c","Q":3,"x":643.9,"h":62.6},{"p":"c","Q":3,"x":648.9,"h":59.7},{"p":"c","Q":3,"x":653.6,"h":62.3},{"p":"c","Q":3,"x":670.9,"h":65.0},{"p":"c","Q":3,"x":682.5,"h":58.3},{"p":"c","Q":3,"x":688.3,"h":61.9},{"p":"c","Q":3,"x":699.9,"h":64.7},{"p":"c","Q":3,"x":717.2,"h":65.0},{"p":"c","Q":3,"x":726.9,"h":56.7},{"p":"c","Q":3,"x":734.6,"h":60.1},{"p":"c","Q":3,"x":748.1,"h":63.2},{"p":"c","Q":3,"x":761.6,"h":65.3},{"p":"c","Q":3,"x":772.4,"h":58.6},{"p":"c","Q":3,"x":779.0,"h":62.4},{"p":"c","Q":3,"x":784.0,"h":62.3},{"p":"c","Q":3,"x":791.7,"h":65.2},{"p":"c","Q":3,"x":800,"h":65.9},
      {"p":"d","Q":12,"x":200,"h":105.3},{"p":"d","Q":12,"x":208.5,"h":95.5},{"p":"d","Q":12,"x":219.4,"h":106.0},{"p":"d","Q":12,"x":231.8,"h":110.9},{"p":"d","Q":12,"x":243.5,"h":112.5},{"p":"d","Q":12,"x":257.0,"h":111.5},{"p":"d","Q":12,"x":272.6,"h":96.1},{"p":"d","Q":12,"x":280.3,"h":108.3},{"p":"d","Q":12,"x":292.0,"h":109.4},{"p":"d","Q":12,"x":307.5,"h":112.7},{"p":"d","Q":12,"x":321.1,"h":112.1},{"p":"d","Q":12,"x":336.6,"h":95.3},{"p":"d","Q":12,"x":344.3,"h":108.2},{"p":"d","Q":12,"x":357.9,"h":112.1},{"p":"d","Q":12,"x":371.5,"h":114.5},{"p":"d","Q":12,"x":385.1,"h":116.3},{"p":"d","Q":12,"x":400.6,"h":98.5},{"p":"d","Q":12,"x":410.3,"h":110.3},{"p":"d","Q":12,"x":421.9,"h":113.9},{"p":"d","Q":12,"x":435.5,"h":116.3},{"p":"d","Q":12,"x":449.1,"h":116.0},{"p":"d","Q":12,"x":464.6,"h":99.8},{"p":"d","Q":12,"x":474.3,"h":110.6},{"p":"d","Q":12,"x":486.0,"h":113.6},{"p":"d","Q":12,"x":499.5,"h":115.5},{"p":"d","Q":12,"x":513.1,"h":114.5},{"p":"d","Q":12,"x":528.6,"h":93.8},{"p":"d","Q":12,"x":538.3,"h":108.2},{"p":"d","Q":12,"x":551.9,"h":111.5},{"p":"d","Q":12,"x":565.5,"h":114.1},{"p":"d","Q":12,"x":579.1,"h":114.3},{"p":"d","Q":12,"x":591.9,"h":97.6},{"p":"d","Q":12,"x":602.4,"h":110.0},{"p":"d","Q":12,"x":614.0,"h":113.3},{"p":"d","Q":12,"x":627.6,"h":115.3},{"p":"d","Q":12,"x":640.0,"h":115.4},{"p":"d","Q":12,"x":656.7,"h":94.6},{"p":"d","Q":12,"x":666.4,"h":108.5},{"p":"d","Q":12,"x":680.0,"h":111.8},{"p":"d","Q":12,"x":693.5,"h":114.3},{"p":"d","Q":12,"x":705.2,"h":114.3},{"p":"d","Q":12,"x":720.7,"h":95.2},{"p":"d","Q":12,"x":732.3,"h":107.9},{"p":"d","Q":12,"x":744.0,"h":110.6},{"p":"d","Q":12,"x":757.6,"h":113.3},{"p":"d","Q":12,"x":769.2,"h":113.5},{"p":"d","Q":12,"x":782.8,"h":98.4},{"p":"d","Q":12,"x":792.5,"h":110.7},{"p":"d","Q":12,"x":800,"h":111.7},
      {"p":"d","Q":6,"x":200,"h":88.2},{"p":"d","Q":6,"x":207.8,"h":80.2},{"p":"d","Q":6,"x":214.4,"h":88.3},{"p":"d","Q":6,"x":231.0,"h":89.7},{"p":"d","Q":6,"x":243.5,"h":88.8},{"p":"d","Q":6,"x":259.0,"h":88.6},{"p":"d","Q":6,"x":270.6,"h":78.2},{"p":"d","Q":6,"x":276.4,"h":86.7},{"p":"d","Q":6,"x":290.0,"h":88.5},{"p":"d","Q":6,"x":307.5,"h":92.1},{"p":"d","Q":6,"x":323.0,"h":91.8},{"p":"d","Q":6,"x":335.8,"h":82.2},{"p":"d","Q":6,"x":342.4,"h":88.2},{"p":"d","Q":6,"x":357.9,"h":91.5},{"p":"d","Q":6,"x":375.4,"h":94.7},{"p":"d","Q":6,"x":387.0,"h":95.8},{"p":"d","Q":6,"x":398.7,"h":83.1},{"p":"d","Q":6,"x":406.4,"h":91.2},{"p":"d","Q":6,"x":421.9,"h":93.3},{"p":"d","Q":6,"x":439.4,"h":94.6},{"p":"d","Q":6,"x":451.0,"h":95.8},{"p":"d","Q":6,"x":463.8,"h":83.4},{"p":"d","Q":6,"x":470.4,"h":90.8},{"p":"d","Q":6,"x":486.0,"h":93.1},{"p":"d","Q":6,"x":499.5,"h":95.5},{"p":"d","Q":6,"x":515.1,"h":94.3},{"p":"d","Q":6,"x":527.9,"h":78.9},{"p":"d","Q":6,"x":534.5,"h":89.1},{"p":"d","Q":6,"x":550.0,"h":91.2},{"p":"d","Q":6,"x":565.5,"h":94.0},{"p":"d","Q":6,"x":579.1,"h":92.4},{"p":"d","Q":6,"x":590.7,"h":79.5},{"p":"d","Q":6,"x":598.5,"h":88.8},{"p":"d","Q":6,"x":614.0,"h":91.2},{"p":"d","Q":6,"x":629.5,"h":94.0},{"p":"d","Q":6,"x":645.0,"h":94.4},{"p":"d","Q":6,"x":655.5,"h":78.5},{"p":"d","Q":6,"x":661.7,"h":88.2},{"p":"d","Q":6,"x":678.0,"h":90.6},{"p":"d","Q":6,"x":693.5,"h":93.1},{"p":"d","Q":6,"x":705.2,"h":93.8},{"p":"d","Q":6,"x":719.9,"h":77.3},{"p":"d","Q":6,"x":724.6,"h":87.3},{"p":"d","Q":6,"x":740.1,"h":90.0},{"p":"d","Q":6,"x":755.6,"h":92.4},{"p":"d","Q":6,"x":769.2,"h":93.2},{"p":"d","Q":6,"x":782.0,"h":79.5},{"p":"d","Q":6,"x":789.8,"h":87.3},{"p":"d","Q":6,"x":800,"h":89.0},
      {"p":"d","Q":3,"x":200,"h":71.9},{"p":"d","Q":3,"x":206.6,"h":65.9},{"p":"d","Q":3,"x":212.4,"h":71.0},{"p":"d","Q":3,"x":218.2,"h":69.3},{"p":"d","Q":3,"x":237.6,"h":70.8},{"p":"d","Q":3,"x":259.0,"h":72.6},{"p":"d","Q":3,"x":268.7,"h":65.0},{"p":"d","Q":3,"x":275.3,"h":70.5},{"p":"d","Q":3,"x":280.3,"h":68.8},{"p":"d","Q":3,"x":299.7,"h":73.8},{"p":"d","Q":3,"x":323.0,"h":74.9},{"p":"d","Q":3,"x":333.5,"h":69.6},{"p":"d","Q":3,"x":339.3,"h":71.3},{"p":"d","Q":3,"x":343.6,"h":69.6},{"p":"d","Q":3,"x":348.2,"h":71.9},{"p":"d","Q":3,"x":387.0,"h":78.9},{"p":"d","Q":3,"x":397.9,"h":69.8},{"p":"d","Q":3,"x":402.5,"h":74.9},{"p":"d","Q":3,"x":408.4,"h":72.6},{"p":"d","Q":3,"x":414.2,"h":74.3},{"p":"d","Q":3,"x":429.7,"h":76.3},{"p":"d","Q":3,"x":452.2,"h":77.9},{"p":"d","Q":3,"x":462.7,"h":68.9},{"p":"d","Q":3,"x":467.7,"h":72.8},{"p":"d","Q":3,"x":472.4,"h":71.0},{"p":"d","Q":3,"x":478.2,"h":73.4},{"p":"d","Q":3,"x":497.6,"h":76.3},{"p":"d","Q":3,"x":515.1,"h":76.3},{"p":"d","Q":3,"x":526.7,"h":68.0},{"p":"d","Q":3,"x":532.5,"h":72.8},{"p":"d","Q":3,"x":537.2,"h":71.0},{"p":"d","Q":3,"x":542.2,"h":72.5},{"p":"d","Q":3,"x":561.6,"h":76.3},{"p":"d","Q":3,"x":581.0,"h":77.9},{"p":"d","Q":3,"x":590.7,"h":68.3},{"p":"d","Q":3,"x":595.8,"h":73.0},{"p":"d","Q":3,"x":601.2,"h":71.3},{"p":"d","Q":3,"x":606.2,"h":72.8},{"p":"d","Q":3,"x":625.6,"h":76.3},{"p":"d","Q":3,"x":642.3,"h":77.9},{"p":"d","Q":3,"x":654.0,"h":68.9},{"p":"d","Q":3,"x":659.4,"h":73.0},{"p":"d","Q":3,"x":664.4,"h":71.2},{"p":"d","Q":3,"x":670.3,"h":72.8},{"p":"d","Q":3,"x":689.7,"h":76.3},{"p":"d","Q":3,"x":706.0,"h":77.9},{"p":"d","Q":3,"x":717.6,"h":65.3},{"p":"d","Q":3,"x":722.6,"h":70.4},{"p":"d","Q":3,"x":728.5,"h":69.2},{"p":"d","Q":3,"x":732.3,"h":71.6},{"p":"d","Q":3,"x":751.7,"h":75.5},{"p":"d","Q":3,"x":769.2,"h":77.0},{"p":"d","Q":3,"x":780.8,"h":67.1},{"p":"d","Q":3,"x":787.4,"h":72.2},{"p":"d","Q":3,"x":793.6,"h":69.5},{"p":"d","Q":3,"x":800,"h":72.4}
    ]
  },
  "concat": [
    {
      "width": 1226,
      "height": 487,
      "encoding": {
        "x": {"field": "x", "type": "quantitative", "scale": {"domain": [200, 800]},
          "axis": {"values": [200, 250, 300, 350, 400, 450, 500, 550, 600, 650, 700, 750, 800], "labelExpr": "datum.value % 100 === 0 ? datum.label : ''", "tickSize": {"condition": {"test": "datum.value % 100 === 0", "value": 23}, "value": 12}, "title": "x (cm)", "labelPadding": 31, "titlePadding": 5, "titleFontSize": 58}},
        "y": {"field": "h", "type": "quantitative", "scale": {"domain": [30, 120]},
          "axis": {"values": [30, 40, 50, 60, 70, 80, 90, 100, 110, 120], "labelExpr": "datum.value % 20 === 0 ? datum.label : ''", "tickSize": 22, "labelPadding": 16, "title": "⟨h⟩(x) (mm)", "titlePadding": 46}}
      },
      "layer": [
        {"data": {"name": "ref"}, "transform": [{"filter": "datum.kind === 'solid'"}], "mark": {"type": "rule", "color": "#ff0000", "strokeWidth": 2.5}, "encoding": {"x2": {"field": "x2"}}},
        {"data": {"name": "ref"}, "transform": [{"filter": "datum.kind === 'dash'"}], "mark": {"type": "rule", "color": "#ff0000", "strokeWidth": 2.5, "strokeDash": [11, 7]}, "encoding": {"x2": {"field": "x2"}}},
        {"data": {"name": "h"}, "transform": [{"filter": "datum.p === 'a'"}], "mark": {"type": "line", "color": "black", "strokeJoin": "round"},
          "encoding": {
            "strokeDash": {"field": "Q", "type": "ordinal", "scale": {"domain": [3, 6, 12], "range": [[1, 0], [5, 5], [1, 0]]},
              "legend": {"orient": "none", "legendX": 84, "legendY": -61, "direction": "horizontal", "gridAlign": "none", "title": null, "labelExpr": "'Q = ' + datum.label + ' L/s'", "labelFontSize": 48, "labelColor": "black", "symbolType": "stroke", "symbolSize": 8281, "symbolStrokeColor": "black", "labelOffset": 42, "columnPadding": 17, "padding": 0, "labelLimit": 400,
                "encode": {"symbols": {"update": {"strokeWidth": {"signal": "datum.value === 12 ? 6.5 : 2"}}}}}},
            "strokeWidth": {"field": "Q", "type": "quantitative", "scale": {"domain": [6, 12], "range": [2, 6.5], "clamp": true}, "legend": null}
          }},
        {"data": {"name": "ref"}, "transform": [{"filter": "datum.kind === 'shaft'"}], "mark": {"type": "rule", "color": "#ff0000", "strokeWidth": 2.5}, "encoding": {"y2": {"field": "h2"}}},
        {"data": {"name": "ref"}, "transform": [{"filter": "datum.kind === 'down'"}], "mark": {"type": "point", "shape": "triangle-down", "filled": true, "color": "#ff0000", "opacity": 1, "size": 480}},
        {"data": {"name": "ref"}, "transform": [{"filter": "datum.kind === 'up'"}], "mark": {"type": "point", "shape": "triangle-up", "filled": true, "color": "#ff0000", "opacity": 1, "size": 480}},
        {"data": {"name": "notes"}, "transform": [{"filter": "datum.p === 'a' && datum.role === 'tag'"}], "mark": {"type": "text", "fontSize": 68, "align": "center", "baseline": "middle"}, "encoding": {"text": {"field": "text"}}},
        {"data": {"name": "notes"}, "transform": [{"filter": "datum.p === 'a' && datum.role === 'aval'"}], "mark": {"type": "text", "fontSize": 46, "align": "right", "baseline": "middle"}, "encoding": {"text": {"field": "text"}}},
        {"data": {"name": "notes"}, "transform": [{"filter": "datum.role === 'dh' || datum.role === 'hn'"}], "mark": {"type": "text", "fontSize": 77, "font": "Liberation Serif", "fontStyle": "italic", "align": "center", "baseline": "middle"}, "encoding": {"text": {"field": "text"}}},
        {"data": {"name": "notes"}, "transform": [{"filter": "datum.role === 'sub'"}], "mark": {"type": "text", "fontSize": 55, "font": "Liberation Serif", "fontStyle": "italic", "align": "center", "baseline": "middle"}, "encoding": {"text": {"field": "text"}}}
      ]
    },
    {
      "width": 1228,
      "height": 497,
      "encoding": {
        "x": {"field": "x", "type": "quantitative", "scale": {"domain": [200, 800]},
          "axis": {"values": [200, 250, 300, 350, 400, 450, 500, 550, 600, 650, 700, 750, 800], "labelExpr": "datum.value % 100 === 0 ? datum.label : ''", "tickSize": {"condition": {"test": "datum.value % 100 === 0", "value": 23}, "value": 12}, "title": "x (cm)", "labelPadding": 31, "titlePadding": 5, "titleFontSize": 58}},
        "y": {"field": "h", "type": "quantitative", "scale": {"domain": [30, 120]},
          "axis": {"values": [30, 40, 50, 60, 70, 80, 90, 100, 110, 120], "labelExpr": "datum.value % 20 === 0 ? datum.label : ''", "tickSize": 22, "labelPadding": 16, "title": "⟨h⟩(x) (mm)", "titlePadding": 46}}
      },
      "layer": [
        {"data": {"name": "h"}, "transform": [{"filter": "datum.p === 'b'"}], "mark": {"type": "line", "color": "black", "strokeJoin": "round"},
          "encoding": {
            "strokeDash": {"field": "Q", "type": "ordinal", "scale": {"domain": [3, 6, 12], "range": [[1, 0], [5, 5], [1, 0]]}, "legend": null},
            "strokeWidth": {"field": "Q", "type": "quantitative", "scale": {"domain": [6, 12], "range": [2, 2.4], "clamp": true}, "legend": null}
          }},
        {"data": {"name": "notes"}, "transform": [{"filter": "datum.p === 'b' && datum.role === 'tag'"}], "mark": {"type": "text", "fontSize": 68, "align": "center", "baseline": "middle"}, "encoding": {"text": {"field": "text"}}},
        {"data": {"name": "notes"}, "transform": [{"filter": "datum.p === 'b' && datum.role === 'aval'"}], "mark": {"type": "text", "fontSize": 46, "align": "right", "baseline": "middle"}, "encoding": {"text": {"field": "text"}}}
      ]
    },
    {
      "width": 1228,
      "height": 489,
      "encoding": {
        "x": {"field": "x", "type": "quantitative", "scale": {"domain": [200, 800]},
          "axis": {"values": [200, 250, 300, 350, 400, 450, 500, 550, 600, 650, 700, 750, 800], "labelExpr": "datum.value % 100 === 0 ? datum.label : ''", "tickSize": {"condition": {"test": "datum.value % 100 === 0", "value": 23}, "value": 12}, "title": "x (cm)", "labelPadding": 31, "titlePadding": 5, "titleFontSize": 58}},
        "y": {"field": "h", "type": "quantitative", "scale": {"domain": [30, 120]},
          "axis": {"values": [30, 40, 50, 60, 70, 80, 90, 100, 110, 120], "labelExpr": "datum.value % 20 === 0 ? datum.label : ''", "tickSize": 22, "labelPadding": 16, "title": "⟨h⟩(x) (mm)", "titlePadding": 46}}
      },
      "layer": [
        {"data": {"name": "h"}, "transform": [{"filter": "datum.p === 'c'"}], "mark": {"type": "line", "color": "black", "strokeJoin": "round"},
          "encoding": {
            "strokeDash": {"field": "Q", "type": "ordinal", "scale": {"domain": [3, 6, 12], "range": [[1, 0], [5, 5], [1, 0]]}, "legend": null},
            "strokeWidth": {"field": "Q", "type": "quantitative", "scale": {"domain": [6, 12], "range": [2, 6.5], "clamp": true}, "legend": null}
          }},
        {"data": {"name": "notes"}, "transform": [{"filter": "datum.p === 'c' && datum.role === 'tag'"}], "mark": {"type": "text", "fontSize": 68, "align": "center", "baseline": "middle"}, "encoding": {"text": {"field": "text"}}},
        {"data": {"name": "notes"}, "transform": [{"filter": "datum.p === 'c' && datum.role === 'aval'"}], "mark": {"type": "text", "fontSize": 46, "align": "right", "baseline": "middle"}, "encoding": {"text": {"field": "text"}}}
      ]
    },
    {
      "width": 1228,
      "height": 498,
      "encoding": {
        "x": {"field": "x", "type": "quantitative", "scale": {"domain": [200, 800]},
          "axis": {"values": [200, 250, 300, 350, 400, 450, 500, 550, 600, 650, 700, 750, 800], "labelExpr": "datum.value % 100 === 0 ? datum.label : ''", "tickSize": {"condition": {"test": "datum.value % 100 === 0", "value": 23}, "value": 12}, "title": "x (cm)", "labelPadding": 31, "titlePadding": 5, "titleFontSize": 58}},
        "y": {"field": "h", "type": "quantitative", "scale": {"domain": [30, 120]},
          "axis": {"values": [30, 40, 50, 60, 70, 80, 90, 100, 110, 120], "labelExpr": "datum.value % 20 === 0 ? datum.label : ''", "tickSize": 22, "labelPadding": 16, "title": "⟨h⟩(x) (mm)", "titlePadding": 46}}
      },
      "layer": [
        {"data": {"name": "h"}, "transform": [{"filter": "datum.p === 'd'"}], "mark": {"type": "line", "color": "black", "strokeJoin": "round"},
          "encoding": {
            "strokeDash": {"field": "Q", "type": "ordinal", "scale": {"domain": [3, 6, 12], "range": [[1, 0], [5, 5], [1, 0]]}, "legend": null},
            "strokeWidth": {"field": "Q", "type": "quantitative", "scale": {"domain": [6, 12], "range": [2, 6.5], "clamp": true}, "legend": null}
          }},
        {"data": {"name": "notes"}, "transform": [{"filter": "datum.p === 'd' && datum.role === 'tag'"}], "mark": {"type": "text", "fontSize": 68, "align": "center", "baseline": "middle"}, "encoding": {"text": {"field": "text"}}},
        {"data": {"name": "notes"}, "transform": [{"filter": "datum.p === 'd' && datum.role === 'aval'"}], "mark": {"type": "text", "fontSize": 46, "align": "right", "baseline": "middle"}, "encoding": {"text": {"field": "text"}}}
      ]
    }
  ]
}
